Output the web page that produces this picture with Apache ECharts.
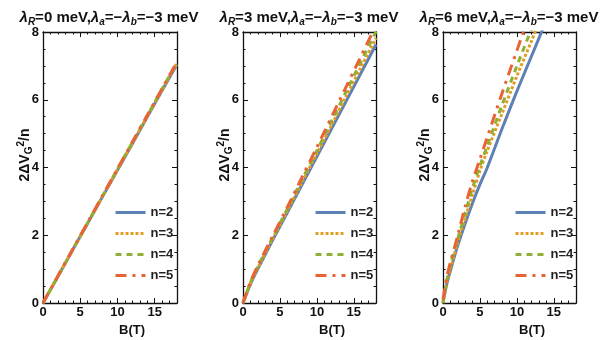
<!DOCTYPE html>
<html>
<head>
<meta charset="utf-8">
<script src="https://cdn.jsdelivr.net/npm/echarts@6/dist/echarts.min.js"></script>
<style>
  html, body { margin: 0; background: #fff; }
  #chart { width: 612px; height: 340px; }
</style>
</head>
<body>
<div id="chart"></div>
<script>
// magnetic field B(T) samples, one list per panel
const fieldP1 = [0, 2, 4, 6, 8, 10, 12, 14, 16, 18];
const fieldP2 = [0, 1, 2, 4, 6, 8, 10, 12, 14, 16, 18];
const fieldP3 = [0, 0.5, 1, 2, 3, 4, 5, 6, 8, 10, 12, 14];

// 2ΔV_G^2/n, lambda_R = 0 meV
const p1n2 = [0, 0.78, 1.57, 2.35, 3.14, 3.92, 4.70, 5.49, 6.27, 7.05];
const p1n3 = [0, 0.79, 1.58, 2.36, 3.15, 3.94, 4.72, 5.51, 6.29, 7.08];
const p1n4 = [0, 0.79, 1.58, 2.37, 3.16, 3.95, 4.74, 5.53, 6.32, 7.10];
const p1n5 = [0, 0.80, 1.59, 2.38, 3.17, 3.96, 4.75, 5.54, 6.33, 7.12];

// lambda_R = 3 meV
const p2n2 = [0, 0.55, 1.00, 1.85, 2.67, 3.50, 4.32, 5.15, 5.98, 6.80, 7.63];
const p2n3 = [0, 0.57, 1.03, 1.89, 2.72, 3.57, 4.41, 5.26, 6.12, 6.97, 7.82];
const p2n4 = [0, 0.60, 1.07, 1.93, 2.78, 3.65, 4.50, 5.38, 6.26, 7.14, 8.01];
const p2n5 = [0, 0.62, 1.10, 1.97, 2.83, 3.72, 4.60, 5.50, 6.40, 7.30, 8.20];

// lambda_R = 6 meV
const p3n2 = [0, 0.55, 0.95, 1.70, 2.35, 2.95, 3.50, 4.00, 5.15, 6.25, 7.30, 8.35];
const p3n3 = [0, 0.60, 1.00, 1.80, 2.50, 3.20, 3.90, 4.50, 5.60, 6.70, 7.75, 8.80];
const p3n4 = [0, 0.65, 1.10, 1.90, 2.65, 3.40, 4.05, 4.65, 5.85, 7.00, 8.10, 9.20];
const p3n5 = [0.1, 0.75, 1.20, 2.00, 2.85, 3.60, 4.25, 4.90, 6.20, 7.45, 8.70, 9.90];

const seriesNames = ["n=2", "n=3", "n=4", "n=5"];
const lambdaR = ["0", "3", "6"];

const font = "'Liberation Sans', Arial, sans-serif";
const ink = "#111";
const colors = ["#5E81B5", "#E19C24", "#8FB032", "#EB6235"];
const dashes = ["solid", [3, 2], [6, 5], [11, 6, 3, 6]];

const panels = [
  { left: 43, width: 134, xs: fieldP1, ys: [p1n2, p1n3, p1n4, p1n5] },
  { left: 243, width: 133, xs: fieldP2, ys: [p2n2, p2n3, p2n4, p2n5] },
  { left: 443, width: 133, xs: fieldP3, ys: [p3n2, p3n3, p3n4, p3n5] },
];
const gridTop = 32;
const gridHeight = 271;

const pairs = (xs, ys) => xs.map((x, i) => [x, ys[i]]);

const frameLine = { show: true, onZero: false, lineStyle: { color: ink, width: 1.3 } };

const xAxisFor = (i, position, labels) => ({
  type: "value",
  gridIndex: i,
  position: position,
  min: 0,
  max: 18,
  interval: 5,
  axisLine: frameLine,
  axisTick: { show: true, inside: true, length: 5, lineStyle: { color: ink, width: 1 } },
  minorTick: { show: true, splitNumber: 5, length: 2.5, lineStyle: { color: ink, width: 1 } },
  splitLine: { show: false },
  axisLabel: {
    show: labels,
    margin: 3,
    fontSize: 13,
    fontWeight: "bold",
    fontFamily: font,
    color: ink,
    formatter: (v) => (v % 5 === 0 ? String(v) : ""),
  },
});

const yAxisFor = (i, position, labels) => ({
  type: "value",
  gridIndex: i,
  position: position,
  min: 0,
  max: 8,
  interval: 2,
  axisLine: frameLine,
  axisTick: { show: true, inside: true, length: 5, lineStyle: { color: ink, width: 1 } },
  minorTick: { show: true, splitNumber: 4, length: 2.5, lineStyle: { color: ink, width: 1 } },
  splitLine: { show: false },
  axisLabel: {
    show: labels,
    margin: 4,
    fontSize: 13,
    fontWeight: "bold",
    fontFamily: font,
    color: ink,
  },
});

const grids = [];
const xAxes = [];
const yAxes = [];
const series = [];
const legends = [];
const graphics = [];

const base = { fontFamily: font, fontWeight: "bold", fill: ink };
const titleRich = {
  t: { ...base, fontSize: 15, lineHeight: 18, verticalAlign: "middle" },
  l: { ...base, fontSize: 15, fontStyle: "italic", lineHeight: 18, verticalAlign: "middle" },
  s: { ...base, fontSize: 10, fontStyle: "italic", lineHeight: 10, verticalAlign: "bottom" },
};
const yNameRich = {
  t: { ...base, fontSize: 14, lineHeight: 18, verticalAlign: "middle" },
  s: { ...base, fontSize: 10, lineHeight: 8, verticalAlign: "bottom" },
  p: { ...base, fontSize: 10, lineHeight: 8, verticalAlign: "top" },
};

panels.forEach((p, i) => {
  grids.push({ left: p.left, top: gridTop, width: p.width, height: gridHeight });
  xAxes.push(xAxisFor(i, "bottom", true), xAxisFor(i, "top", false));
  yAxes.push(yAxisFor(i, "left", true), yAxisFor(i, "right", false));

  p.ys.forEach((ys, k) => {
    series.push({
      name: seriesNames[k],
      type: "line",
      xAxisIndex: 2 * i,
      yAxisIndex: 2 * i,
      data: pairs(p.xs, ys),
      smooth: 0.3,
      symbol: "none",
      clip: true,
      z: 2 + k,
      lineStyle: { color: colors[k], width: 3, type: dashes[k], cap: "butt" },
      itemStyle: { color: colors[k] },
    });
  });

  legends.push({
    orient: "vertical",
    left: p.left + 66,
    top: 201,
    itemWidth: 30,
    itemHeight: 4,
    itemGap: 8,
    selectedMode: false,
    data: seriesNames,
    itemStyle: { opacity: 0 },
    lineStyle: { width: 3 },
    textStyle: { fontSize: 13, fontWeight: "bold", fontFamily: font, color: "#222" },
  });

  graphics.push(
    {
      type: "text",
      x: p.left + 66,
      y: 18,
      style: {
        ...base,
        text: "{l|λ}{s|R}{t|=" + lambdaR[i] + " meV,}{l|λ}{s|a}{t|=−}{l|λ}{s|b}{t|=−3 meV}",
        rich: titleRich,
        align: "center",
        verticalAlign: "middle",
      },
    },
    {
      type: "text",
      x: p.left - 18,
      y: 155,
      rotation: Math.PI / 2,
      style: {
        ...base,
        text: "{t|2ΔV}{s|G}{p|2}{t|/n}",
        rich: yNameRich,
        align: "center",
        verticalAlign: "middle",
      },
    },
    {
      type: "text",
      x: p.left + 89,
      y: 330,
      style: { ...base, text: "B(T)", fontSize: 13, align: "center", verticalAlign: "middle" },
    }
  );
});

const chart = echarts.init(document.getElementById("chart"), null, { renderer: "canvas" });
chart.setOption({
  animation: false,
  backgroundColor: "#fff",
  grid: grids,
  xAxis: xAxes,
  yAxis: yAxes,
  legend: legends,
  series: series,
  graphic: graphics,
});
</script>
</body>
</html>
